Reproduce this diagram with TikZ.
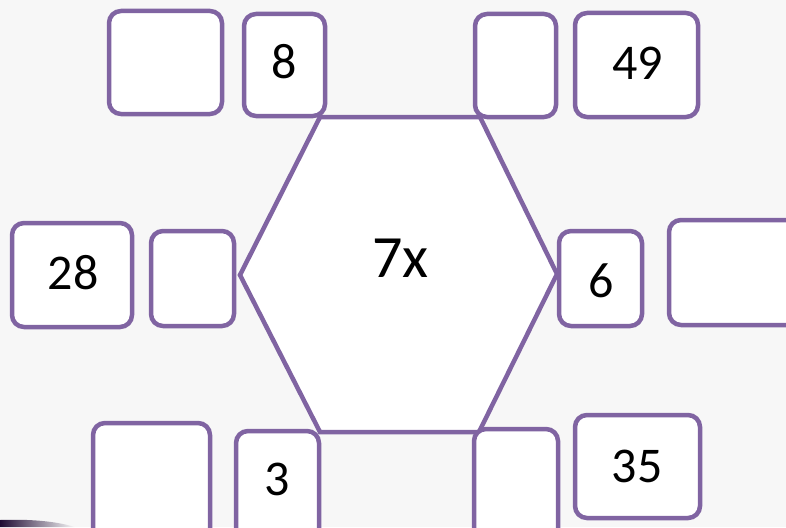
\documentclass[tikz,border=0pt]{standalone}
\usepackage{fontspec}
\setmainfont{Carlito}
\definecolor{bg}{HTML}{F7F7F7}
\definecolor{pur}{HTML}{8064A2}
\definecolor{dk}{HTML}{1E0B33}
\tikzset{
  box/.style={draw=pur, line width=4.5pt, fill=white, rounded corners=12pt, inner sep=0pt},
  num/.style={inner sep=0pt, font=\fontsize{50}{60}\selectfont},
  big/.style={inner sep=0pt, font=\fontsize{60}{72}\selectfont},
  hexa/.style={draw=pur, line width=4.5pt, fill=white, line join=miter}
}
\begin{document}
\begin{tikzpicture}[x=1pt,y=-1pt]
\clip (0,0) rectangle (786,527);
\fill[bg] (0,0) rectangle (786,527);
% dark streak bottom-left
\shade[left color=dk, right color=bg] (0,520) .. controls (30,519) and (55,521) .. (75,527) -- (0,527) -- cycle;
% hexagon
\coordinate (h1) at (320,117);
\coordinate (h2) at (480,117);
\coordinate (h3) at (557,274);
\coordinate (h4) at (479,432);
\coordinate (h5) at (320,432);
\coordinate (h6) at (240,275);
\draw[hexa] (h1) -- (h2) -- (h3) -- (h4) -- (h5) -- (h6) -- cycle;
\node[big] (t7x) at (400.5,258) {7x};
% boxes
\node[box, minimum width=113pt, minimum height=103pt] (b1) at (165.5,62.5) {};
\node[box, minimum width=81pt, minimum height=102pt] (b2) at (284.5,65) {};
\node[box, minimum width=81pt, minimum height=103pt] (b3) at (515.5,65.5) {};
\node[box, minimum width=123pt, minimum height=104pt] (b4) at (636.5,65) {};
\node[box, minimum width=120pt, minimum height=104pt] (b5) at (72,275) {};
\node[box, minimum width=83pt, minimum height=95pt] (b6) at (192.5,278.5) {};
\node[box, minimum width=83pt, minimum height=95pt] (b7) at (600.5,278.5) {};
\node[box, minimum width=134pt, minimum height=105pt] (b8) at (736,272.5) {};
\node[box, minimum width=117pt, minimum height=120pt] (b9) at (151.5,483) {};
\node[box, minimum width=83pt, minimum height=112pt] (b10) at (277.5,487) {};
\node[box, minimum width=84pt, minimum height=114pt] (b11) at (516,486) {};
\node[box, minimum width=125pt, minimum height=103pt] (b12) at (637.5,466.5) {};
% labels
\node[num] (t8) at (284,62) {8};
\node[num] (t49) at (637.5,63) {49};
\node[num] (t28) at (73,273) {28};
\node[num] (t6) at (601.5,281) {6};
\node[num] (t3) at (277,479) {3};
\node[num] (t35) at (637,466.5) {35};
\end{tikzpicture}
\end{document}
